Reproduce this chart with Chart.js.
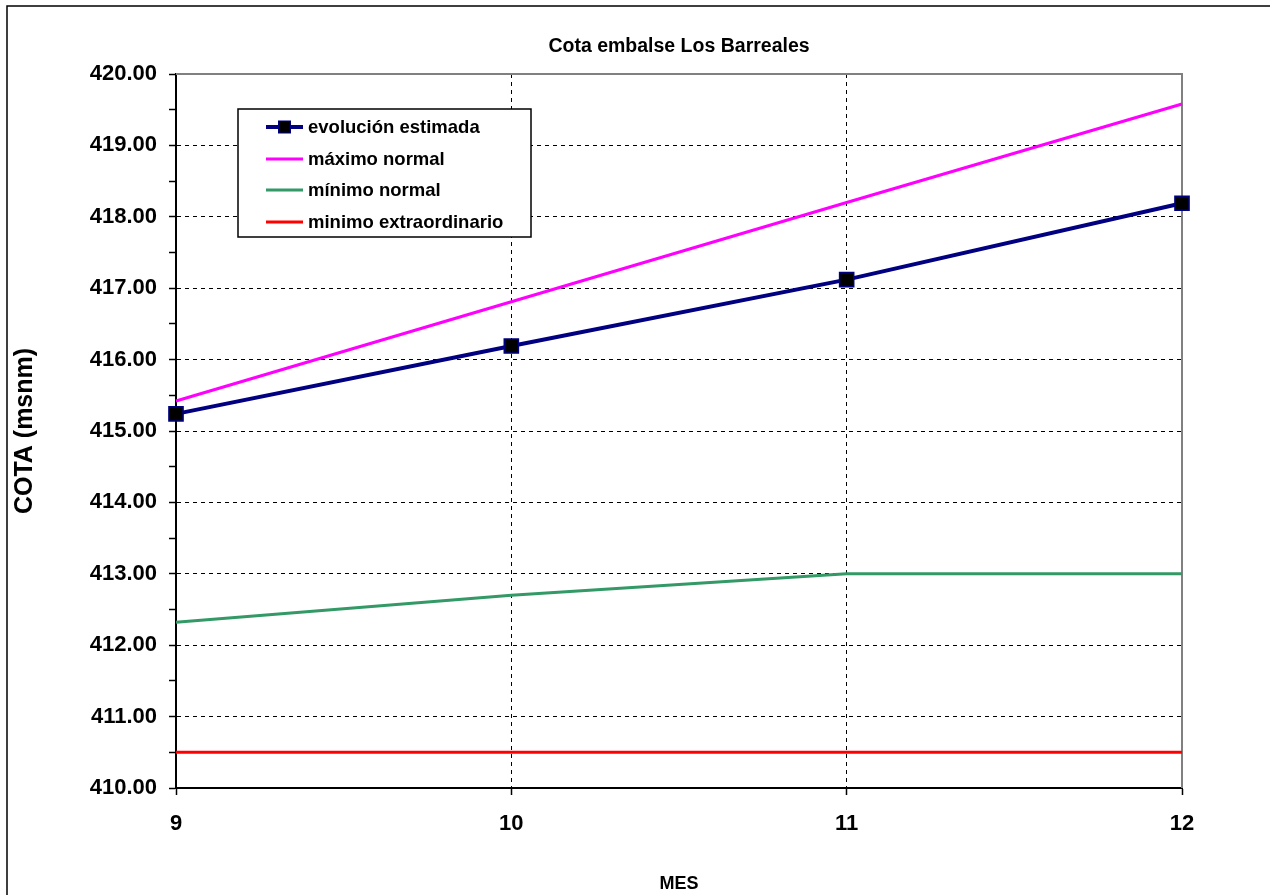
<!DOCTYPE html>
<html>
<head>
<meta charset="utf-8">
<script src="https://cdn.jsdelivr.net/npm/chart.js@4/dist/chart.umd.min.js"></script>
<style>
  html, body { margin: 0; padding: 0; background: #ffffff; }
  #wrap { width: 1270px; height: 895px; }
</style>
</head>
<body>
<div id="wrap"><canvas id="c" width="1270" height="895"></canvas></div>
<script>
// ---- data ----
const chartTitle = 'Cota embalse Los Barreales';
const months = [9, 10, 11, 12];
const seriesNames = ['evolución estimada', 'máximo normal', 'mínimo normal', 'minimo extraordinario'];
const evolucionEstimada = [415.24, 416.19, 417.12, 418.19];
const maximoNormal = [415.42, 416.81, 418.20, 419.58];
const minimoNormal = [412.32, 412.70, 413.00, 413.00];
const minimoExtraordinario = [410.50, 410.50, 410.50, 410.50];
const yMin = 410, yMax = 420;
const xMin = 9, xMax = 12;

const FONT = "'Liberation Sans', Arial, sans-serif";
const pts = arr => months.map((m, i) => ({ x: m, y: arr[i] }));

const framePlugin = {
  id: 'frame',
  beforeDatasetsDraw(chart) {
    const { ctx, chartArea: a } = chart;
    ctx.save();
    ctx.strokeStyle = '#808080';
    ctx.lineWidth = 2;
    ctx.beginPath();
    ctx.moveTo(a.left, a.top);
    ctx.lineTo(a.right, a.top);
    ctx.lineTo(a.right, a.bottom);
    ctx.stroke();
    ctx.restore();
  },
  afterDraw(chart) {
    const { ctx, chartArea: a } = chart;
    ctx.save();
    // outer chart border
    ctx.strokeStyle = '#000';
    ctx.lineWidth = 1.5;
    ctx.strokeRect(7, 6, 1400, 1000);
    // title
    ctx.fillStyle = '#000';
    ctx.font = 'bold 19.5px ' + FONT;
    ctx.textAlign = 'center';
    ctx.textBaseline = 'middle';
    ctx.fillText(chartTitle, (a.left + a.right) / 2, 47);
    // legend
    const lx = 238, ly = 109, lw = 293, lh = 128;
    ctx.fillStyle = '#fff';
    ctx.fillRect(lx, ly, lw, lh);
    ctx.strokeStyle = '#000';
    ctx.lineWidth = 1.5;
    ctx.strokeRect(lx, ly, lw, lh);
    const rows = [127, 159, 190, 222];
    chart.data.datasets.forEach((ds, i) => {
      const y = rows[i];
      ctx.strokeStyle = ds.borderColor;
      ctx.lineWidth = ds.borderWidth;
      ctx.beginPath();
      ctx.moveTo(266, y);
      ctx.lineTo(303, y);
      ctx.stroke();
      if (ds.pointRadius > 0) {
        ctx.fillStyle = ds.pointBackgroundColor;
        ctx.fillRect(278.5, y - 6, 12, 12);
        ctx.strokeStyle = ds.pointBorderColor;
        ctx.lineWidth = 1;
        ctx.strokeRect(278.5, y - 6, 12, 12);
      }
      ctx.fillStyle = '#000';
      ctx.font = 'bold 18.5px ' + FONT;
      ctx.textAlign = 'left';
      ctx.textBaseline = 'middle';
      ctx.fillText(ds.label, 308, y + 1);
    });
    ctx.restore();
  }
};

new Chart(document.getElementById('c'), {
  type: 'line',
  data: {
    datasets: [
      { label: seriesNames[0], data: pts(evolucionEstimada), borderColor: '#000080', borderWidth: 4,
        pointStyle: 'rect', pointRadius: 10, pointBackgroundColor: '#000000', pointBorderColor: '#000080',
        pointBorderWidth: 1.5, tension: 0, clip: false, order: 0 },
      { label: seriesNames[1], data: pts(maximoNormal), borderColor: '#FF00FF', borderWidth: 3,
        pointRadius: 0, tension: 0, clip: false, order: 1 },
      { label: seriesNames[2], data: pts(minimoNormal), borderColor: '#339966', borderWidth: 3,
        pointRadius: 0, tension: 0, clip: false, order: 2 },
      { label: seriesNames[3], data: pts(minimoExtraordinario), borderColor: '#FF0000', borderWidth: 3,
        pointRadius: 0, tension: 0, clip: false, order: 3 }
    ]
  },
  options: {
    responsive: false,
    animation: false,
    layout: { padding: { left: 0, top: 74, right: 88, bottom: 0 } },
    plugins: { legend: { display: false }, title: { display: false }, tooltip: { enabled: false } },
    scales: {
      x: {
        type: 'linear', min: xMin, max: xMax,
        afterFit: s => { s.height = 107; },
        ticks: { stepSize: 1, color: '#000', padding: 16, font: { family: FONT, size: 22, weight: 'bold' },
                 autoSkip: false, maxRotation: 0 },
        grid: {
          color: c => (c.tick && (c.tick.value === 10 || c.tick.value === 11)) ? '#000' : 'rgba(0,0,0,0)',
          lineWidth: 1, tickColor: '#000', tickLength: 7, tickWidth: 1.5
        },
        border: { display: true, color: '#000', width: 2, dash: [4, 4] },
        title: { display: true, text: 'MES', color: '#000', font: { family: FONT, size: 18, weight: 'bold' },
                 padding: { top: 6, bottom: 0 } }
      },
      y: {
        type: 'linear', min: yMin, max: yMax,
        afterFit: s => { s.width = 176; },
        ticks: { stepSize: 0.5, color: '#000', padding: 12, autoSkip: false,
                 font: { family: FONT, size: 22, weight: 'bold' },
                 callback: v => (Math.abs(v - Math.round(v)) < 1e-9 ? Number(v).toFixed(2) : '') },
        grid: {
          color: c => (c.tick && Number.isInteger(c.tick.value) && c.tick.value !== yMax && c.tick.value !== yMin) ? '#000' : 'rgba(0,0,0,0)',
          lineWidth: 1, tickColor: '#000', tickLength: 7, tickWidth: 1.5
        },
        border: { display: true, color: '#000', width: 2, dash: [4, 4] },
        title: { display: true, text: 'COTA (msnm)', color: '#000', font: { family: FONT, size: 25, weight: 'bold' },
                 padding: { top: 10, bottom: 0 } }
      }
    }
  },
  plugins: [framePlugin]
});
</script>
</body>
</html>
